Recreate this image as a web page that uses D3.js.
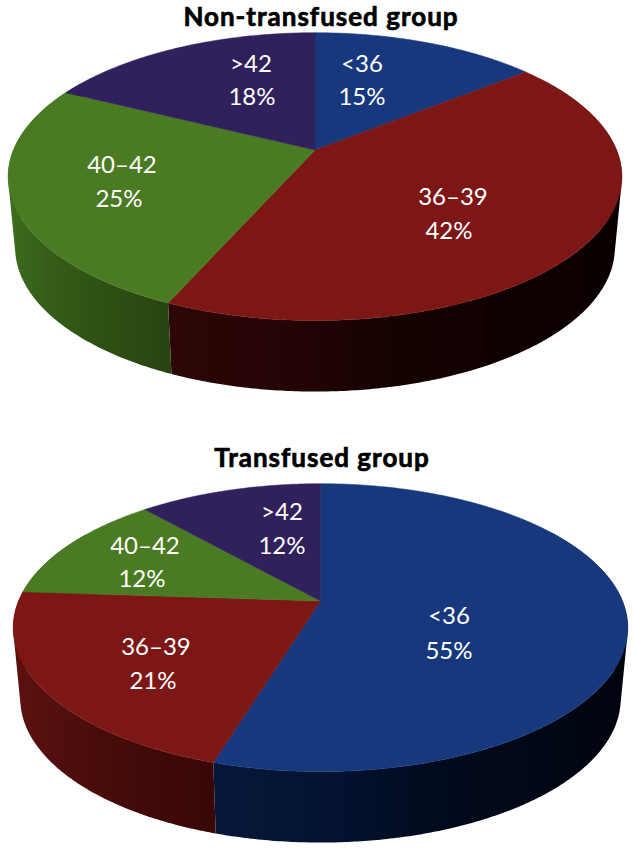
<!DOCTYPE html>
<html>
<head>
<meta charset="utf-8">
<script src="https://cdn.jsdelivr.net/npm/d3@7"></script>
<style>
  body { margin: 0; background: #fff; }
  text { font-family: Lato, "Open Sans", sans-serif; }
</style>
</head>
<body>
<svg id="chart" width="634" height="849"></svg>
<script>
// data
const categories = ['<36', '36–39', '40–42', '>42'];
const nonTransfused = [15, 42, 25, 18];
const transfused = [55, 21, 12, 12];

// slice colours, top face
const topColors = ['#17387c', '#7c1716', '#4a7a22', '#30215c'];
// wall shading, left to right [offset, colour] for each category
const wallStopsA = [
  [['0', '#07183a'], ['0.4', '#03102a'], ['1', '#000610']],
  [['0', '#2e0607'], ['0.3', '#230405'], ['0.5', '#150201'], ['1', '#0a0000']],
  [['0', '#3e6e1e'], ['0.25', '#355c18'], ['0.55', '#2e5214'], ['1', '#274411']],
  [['0', '#1c1236'], ['1', '#0d081b']]
];
const wallStopsB = [
  [['0', '#06183a'], ['0.3', '#031230'], ['0.5', '#020c20'], ['1', '#00040d']],
  [['0', '#5c1210'], ['0.3', '#4d0e0c'], ['0.7', '#3f0a08'], ['1', '#380706']],
  [['0', '#2f5716'], ['1', '#1f360c']],
  [['0', '#1c1236'], ['1', '#0d081b']]
];

// label placement, [x, baseline] of the range line and of the percent line
const labelsA = [
  [[362, 72], [362, 105]],
  [[453, 205], [449, 239]],
  [[122, 173], [119, 207]],
  [[251, 72], [252, 105]]
];
const labelsB = [
  [[449, 624], [449, 659]],
  [[156, 655], [153, 689]],
  [[145, 554], [142, 587]],
  [[282, 520], [282, 554]]
];

const svg = d3.select('#chart');
const defs = svg.append('defs');
const pie = d3.pie().sort(null);
const line = d3.line();
const perspective = 0.185;

function drawPie(opts) {
  const g = svg.append('g');
  const slices = pie(opts.values);

  // tilted circle, far edge smaller
  function project(angle, lower) {
    const warp = angle < Math.PI ? 0.05 : 0.03;
    const a = angle - warp * Math.sin(2 * angle);
    const u = Math.sin(a), v = Math.cos(a);
    const w = 1 + perspective * v;
    const A = lower ? opts.rx * 0.977 : opts.rx;
    const cy = lower ? opts.cy + opts.depth : opts.cy;
    return [opts.cx + A * u / w, cy - opts.ry * v / w];
  }

  function arcPoints(a0, a1, lower) {
    const n = Math.max(2, Math.ceil((a1 - a0) / 0.01));
    return d3.range(n + 1).map(i => project(a0 + (a1 - a0) * i / n, lower));
  }

  // walls first, only the part that can show
  const wallFrom = Math.PI / 3, wallTo = 5 * Math.PI / 3;
  slices.forEach(function(s, i) {
    const a0 = Math.max(s.startAngle, wallFrom);
    const a1 = Math.min(s.endAngle, wallTo);
    if (a1 <= a0) return;
    const id = opts.name + '-wall-' + i;
    const upper = arcPoints(a0, a1, false);
    const lower = arcPoints(a0, a1, true);
    // one quad per step, all wound the same way so the outline stays filled
    const quads = d3.range(upper.length - 1).map(function(k) {
      const q = [upper[k], upper[k + 1], lower[k + 1], lower[k]];
      return line(d3.polygonArea(q) < 0 ? q.reverse() : q) + 'Z';
    });
    const xs = d3.extent(upper.concat(lower), d => d[0]);
    const grad = defs.append('linearGradient')
        .attr('id', id)
        .attr('gradientUnits', 'userSpaceOnUse')
        .attr('x1', xs[0]).attr('x2', xs[1])
        .attr('y1', 0).attr('y2', 0);
    grad.selectAll('stop')
        .data(opts.wallStops[i])
        .enter()
        .append('stop')
        .attr('offset', d => d[0])
        .attr('stop-color', d => d[1]);
    g.append('path')
        .attr('d', quads.join(''))
        .attr('fill', 'url(#' + id + ')');
  });

  // top face
  g.selectAll('path.face')
      .data(slices)
      .enter()
      .append('path')
      .attr('class', 'face')
      .attr('d', d => line([[opts.cx, opts.cy]].concat(arcPoints(d.startAngle, d.endAngle, false))) + 'Z')
      .attr('fill', (d, i) => topColors[i])
      .attr('stroke', (d, i) => topColors[i])
      .attr('stroke-width', 0.5);

  // labels, two lines
  const label = g.selectAll('g.label')
      .data(slices)
      .enter()
      .append('g')
      .attr('class', 'label')
      .attr('fill', '#fff')
      .attr('font-size', 24)
      .attr('text-anchor', 'middle');
  label.append('text')
      .attr('x', (d, i) => opts.labels[i][0][0])
      .attr('y', (d, i) => opts.labels[i][0][1])
      .text((d, i) => categories[i]);
  label.append('text')
      .attr('x', (d, i) => opts.labels[i][1][0])
      .attr('y', (d, i) => opts.labels[i][1][1])
      .text(d => d.value + '%');

  svg.append('text')
      .attr('x', opts.titleX)
      .attr('y', opts.titleY)
      .attr('text-anchor', 'middle')
      .attr('font-size', 26)
      .attr('font-weight', 700)
      .attr('stroke', '#000')
      .attr('stroke-width', 0.7)
      .attr('letter-spacing', 1)
      .text(opts.title);
}

drawPie({
  name: 'a', title: 'Non-transfused group', titleX: 321, titleY: 26,
  values: nonTransfused, wallStops: wallStopsA, labels: labelsA,
  cx: 315, cy: 150, rx: 301.6, ry: 139, depth: 71
});
drawPie({
  name: 'b', title: 'Transfused group', titleX: 322, titleY: 467,
  values: transfused, wallStops: wallStopsB, labels: labelsB,
  cx: 320.5, cy: 601, rx: 302, ry: 139, depth: 71
});
</script>
</body>
</html>
